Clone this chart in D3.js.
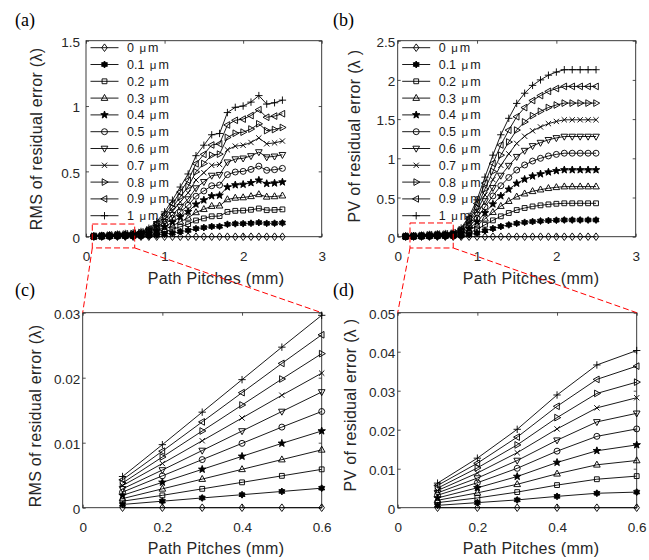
<!DOCTYPE html>
<html lang="en">
<head>
<meta charset="UTF-8">
<title>Residual error vs path pitch</title>
<script src="https://d3js.org/d3.v7.min.js"></script>
<style>
  body { margin: 0; background: #fff; }
  svg { display: block; }
</style>
</head>
<body>
<svg id="chart" width="649" height="560"></svg>
<script>
// path pitch (mm), shared by all panels; (c) and (d) show the first six points
const pitches = [0.1, 0.2, 0.3, 0.4, 0.5, 0.6, 0.7, 0.8, 0.9, 1.0, 1.1, 1.2, 1.3,
                 1.4, 1.5, 1.6, 1.7, 1.8, 1.9, 2.0, 2.1, 2.2, 2.3, 2.4, 2.5];

const heightLabels = ["0", "0.1", "0.2", "0.3", "0.4", "0.5", "0.6", "0.7", "0.8", "0.9", "1"];

// RMS of residual error (lambda), one array per error height
const rms00 = [0, 0, 0, 0, 0, 0, 0, 0, 0, 0, 0, 0, 0, 0, 0, 0, 0, 0, 0, 0, 0, 0, 0, 0, 0];
const rms01 = [0.0005, 0.0010, 0.0015, 0.0020, 0.0025, 0.0030, 0.004, 0.007, 0.012, 0.019, 0.028, 0.038, 0.048, 0.062, 0.070, 0.078, 0.079, 0.095, 0.099, 0.100, 0.103, 0.108, 0.102, 0.103, 0.105];
const rms02 = [0.0010, 0.0019, 0.0029, 0.0039, 0.0049, 0.0059, 0.008, 0.013, 0.023, 0.038, 0.056, 0.076, 0.096, 0.124, 0.140, 0.156, 0.158, 0.190, 0.198, 0.200, 0.206, 0.216, 0.203, 0.205, 0.209];
const rms03 = [0.0014, 0.0029, 0.0044, 0.0059, 0.0074, 0.0089, 0.012, 0.020, 0.035, 0.057, 0.084, 0.114, 0.144, 0.186, 0.210, 0.234, 0.237, 0.285, 0.297, 0.300, 0.309, 0.324, 0.305, 0.308, 0.314];
const rms04 = [0.0019, 0.0039, 0.0059, 0.0079, 0.0099, 0.0118, 0.016, 0.026, 0.046, 0.076, 0.112, 0.152, 0.192, 0.248, 0.280, 0.312, 0.316, 0.380, 0.396, 0.400, 0.412, 0.432, 0.406, 0.410, 0.418];
const rms05 = [0.0024, 0.0049, 0.0074, 0.0099, 0.0124, 0.0148, 0.020, 0.033, 0.058, 0.095, 0.140, 0.190, 0.240, 0.310, 0.350, 0.390, 0.395, 0.475, 0.495, 0.500, 0.515, 0.540, 0.508, 0.513, 0.523];
const rms06 = [0.0029, 0.0058, 0.0088, 0.0118, 0.0148, 0.0178, 0.024, 0.039, 0.069, 0.114, 0.168, 0.228, 0.288, 0.372, 0.420, 0.468, 0.474, 0.570, 0.594, 0.600, 0.618, 0.648, 0.609, 0.615, 0.627];
const rms07 = [0.0034, 0.0068, 0.0103, 0.0138, 0.0173, 0.0207, 0.028, 0.046, 0.081, 0.133, 0.196, 0.266, 0.336, 0.434, 0.490, 0.546, 0.553, 0.665, 0.693, 0.700, 0.721, 0.756, 0.711, 0.718, 0.732];
const rms08 = [0.0038, 0.0078, 0.0118, 0.0158, 0.0198, 0.0237, 0.032, 0.052, 0.092, 0.152, 0.224, 0.304, 0.384, 0.496, 0.560, 0.624, 0.632, 0.760, 0.792, 0.800, 0.824, 0.864, 0.812, 0.820, 0.836];
const rms09 = [0.0043, 0.0087, 0.0132, 0.0177, 0.0222, 0.0266, 0.036, 0.059, 0.104, 0.171, 0.252, 0.342, 0.432, 0.558, 0.630, 0.702, 0.711, 0.855, 0.891, 0.900, 0.927, 0.972, 0.914, 0.923, 0.941];
const rms10 = [0.0048, 0.0097, 0.0147, 0.0197, 0.0247, 0.0296, 0.040, 0.065, 0.115, 0.190, 0.280, 0.380, 0.480, 0.620, 0.700, 0.780, 0.790, 0.950, 0.990, 1.000, 1.030, 1.080, 1.015, 1.025, 1.045];

// PV of residual error (lambda)
const pv00 = [0, 0, 0, 0, 0, 0, 0, 0, 0, 0, 0, 0, 0, 0, 0, 0, 0, 0, 0, 0, 0, 0, 0, 0, 0];
const pv01 = [0.0006, 0.0013, 0.0020, 0.0029, 0.0037, 0.0040, 0.006, 0.011, 0.026, 0.047, 0.076, 0.104, 0.130, 0.151, 0.170, 0.183, 0.193, 0.200, 0.206, 0.210, 0.213, 0.213, 0.213, 0.213, 0.213];
const pv02 = [0.0013, 0.0025, 0.0040, 0.0058, 0.0073, 0.0081, 0.011, 0.022, 0.052, 0.094, 0.152, 0.208, 0.260, 0.302, 0.340, 0.366, 0.386, 0.400, 0.412, 0.420, 0.426, 0.426, 0.426, 0.426, 0.426];
const pv03 = [0.0019, 0.0038, 0.0060, 0.0087, 0.0110, 0.0121, 0.017, 0.033, 0.078, 0.141, 0.228, 0.312, 0.390, 0.453, 0.510, 0.549, 0.579, 0.600, 0.618, 0.630, 0.639, 0.639, 0.639, 0.639, 0.639];
const pv04 = [0.0025, 0.0051, 0.0080, 0.0116, 0.0146, 0.0161, 0.022, 0.044, 0.104, 0.188, 0.304, 0.416, 0.520, 0.604, 0.680, 0.732, 0.772, 0.800, 0.824, 0.840, 0.852, 0.852, 0.852, 0.852, 0.852];
const pv05 = [0.0032, 0.0064, 0.0101, 0.0145, 0.0183, 0.0202, 0.028, 0.055, 0.130, 0.235, 0.380, 0.520, 0.650, 0.755, 0.850, 0.915, 0.965, 1.000, 1.030, 1.050, 1.065, 1.065, 1.065, 1.065, 1.065];
const pv06 = [0.0038, 0.0076, 0.0121, 0.0173, 0.0220, 0.0242, 0.033, 0.066, 0.156, 0.282, 0.456, 0.624, 0.780, 0.906, 1.020, 1.098, 1.158, 1.200, 1.236, 1.260, 1.278, 1.278, 1.278, 1.278, 1.278];
const pv07 = [0.0044, 0.0089, 0.0141, 0.0202, 0.0256, 0.0282, 0.039, 0.077, 0.182, 0.329, 0.532, 0.728, 0.910, 1.057, 1.190, 1.281, 1.351, 1.400, 1.442, 1.470, 1.491, 1.491, 1.491, 1.491, 1.491];
const pv08 = [0.0050, 0.0102, 0.0161, 0.0231, 0.0293, 0.0322, 0.044, 0.088, 0.208, 0.376, 0.608, 0.832, 1.040, 1.208, 1.360, 1.464, 1.544, 1.600, 1.648, 1.680, 1.704, 1.704, 1.704, 1.704, 1.704];
const pv09 = [0.0057, 0.0114, 0.0181, 0.0260, 0.0329, 0.0363, 0.050, 0.099, 0.234, 0.423, 0.684, 0.936, 1.170, 1.359, 1.530, 1.647, 1.737, 1.800, 1.854, 1.890, 1.917, 1.917, 1.917, 1.917, 1.917];
const pv10 = [0.0063, 0.0127, 0.0201, 0.0289, 0.0366, 0.0403, 0.055, 0.110, 0.260, 0.470, 0.760, 1.040, 1.300, 1.510, 1.700, 1.830, 1.930, 2.000, 2.060, 2.100, 2.130, 2.130, 2.130, 2.130, 2.130];

// tick labels
const xTicksFull = [0, 1, 2, 3];
const xTicksZoom = [0, 0.2, 0.4, 0.6];
const yTicksRms = [0, 0.5, 1, 1.5];
const yTicksPv = [0, 0.5, 1, 1.5, 2, 2.5];
const yTicksRmsZoom = [0, 0.01, 0.02, 0.03];
const yTicksPvZoom = [0, 0.01, 0.02, 0.03, 0.04, 0.05];

const rmsSeries = [rms00, rms01, rms02, rms03, rms04, rms05, rms06, rms07, rms08, rms09, rms10];
const pvSeries = [pv00, pv01, pv02, pv03, pv04, pv05, pv06, pv07, pv08, pv09, pv10];
const markers = ["diamond", "hexagram", "square", "triUp", "pentagram", "circle",
                 "triDown", "cross", "triRight", "triLeft", "plus"];

const axisColor = "#262626";
const sans = "'Liberation Sans', Arial, sans-serif";
const svg = d3.select("#chart");
const ms = 1.15; // marker scale

function starPath(p, n, ro, ri) {
  for (let i = 0; i < 2 * n; i++) {
    const a = -Math.PI / 2 + i * Math.PI / n;
    const r = i % 2 ? ri : ro;
    if (i === 0) p.moveTo(r * Math.cos(a), r * Math.sin(a));
    else p.lineTo(r * Math.cos(a), r * Math.sin(a));
  }
  p.closePath();
}

function markerPath(type) {
  const p = d3.path();
  switch (type) {
    case "diamond":
      p.moveTo(0, -3.3); p.lineTo(2.4, 0); p.lineTo(0, 3.3); p.lineTo(-2.4, 0); p.closePath(); break;
    case "hexagram": starPath(p, 6, 3.0, 1.9); break;
    case "square": p.rect(-2.1, -2.1, 4.2, 4.2); break;
    case "triUp": p.moveTo(0, -3.2); p.lineTo(2.9, 2); p.lineTo(-2.9, 2); p.closePath(); break;
    case "triDown": p.moveTo(0, 3.2); p.lineTo(2.9, -2); p.lineTo(-2.9, -2); p.closePath(); break;
    case "triRight": p.moveTo(3.2, 0); p.lineTo(-2, 2.9); p.lineTo(-2, -2.9); p.closePath(); break;
    case "triLeft": p.moveTo(-3.2, 0); p.lineTo(2, 2.9); p.lineTo(2, -2.9); p.closePath(); break;
    case "pentagram": starPath(p, 5, 3.4, 1.4); break;
    case "circle": p.arc(0, 0, 2.6, 0, 2 * Math.PI); p.closePath(); break;
    case "cross": p.moveTo(-2.3, -2.3); p.lineTo(2.3, 2.3); p.moveTo(2.3, -2.3); p.lineTo(-2.3, 2.3); break;
    case "plus": p.moveTo(-3.2, 0); p.lineTo(3.2, 0); p.moveTo(0, -3.2); p.lineTo(0, 3.2); break;
  }
  return p.toString();
}
const filled = t => t === "hexagram" || t === "pentagram";

function drawMarker(g, type, px, py) {
  g.append("path")
    .attr("d", markerPath(type))
    .attr("transform", `translate(${px},${py}) scale(${ms})`)
    .attr("fill", filled(type) ? "#000" : "none")
    .attr("stroke", "#000")
    .attr("stroke-width", 0.8);
}

function drawPanel(cfg) {
  const x = d3.scaleLinear().domain(cfg.xDomain).range([cfg.left, cfg.right]);
  const y = d3.scaleLinear().domain(cfg.yDomain).range([cfg.bottom, cfg.top]);
  const g = svg.append("g");

  const styleAxis = sel => {
    sel.select(".domain").remove();
    sel.selectAll(".tick line").attr("stroke", axisColor).attr("stroke-width", 0.8);
    sel.selectAll("text").attr("fill", axisColor).attr("font-family", sans).attr("font-size", 13.5);
  };
  g.append("g").attr("transform", `translate(0,${cfg.bottom})`)
    .call(d3.axisBottom(x).tickValues(cfg.xTicks).tickSize(-3).tickPadding(15).tickFormat(d => d))
    .call(styleAxis);
  g.append("g").attr("transform", `translate(0,${cfg.top})`)
    .call(d3.axisTop(x).tickValues(cfg.xTicks).tickSize(-3).tickFormat(""))
    .call(styleAxis);
  g.append("g").attr("transform", `translate(${cfg.left},0)`)
    .call(d3.axisLeft(y).tickValues(cfg.yTicks).tickSize(-3).tickPadding(cfg.tickGap).tickFormat(d => d))
    .call(styleAxis)
    .selectAll("text").attr("dy", "0.42em");
  g.append("g").attr("transform", `translate(${cfg.right},0)`)
    .call(d3.axisRight(y).tickValues(cfg.yTicks).tickSize(-3).tickFormat(""))
    .call(styleAxis);

  g.append("rect")
    .attr("x", cfg.left).attr("y", cfg.top)
    .attr("width", cfg.right - cfg.left).attr("height", cfg.bottom - cfg.top)
    .attr("fill", "none").attr("stroke", axisColor).attr("stroke-width", 0.9);

  const line = d3.line().x(d => x(d[0])).y(d => y(d[1]));
  cfg.series.forEach((vals, k) => {
    const pts = pitches.map((p, i) => [p, vals[i]]).filter(d => d[0] <= cfg.xMax + 1e-9);
    g.append("path").attr("d", line(pts))
      .attr("fill", "none").attr("stroke", "#000").attr("stroke-width", 0.9);
    pts.forEach(d => drawMarker(g, markers[k], x(d[0]), y(d[1])));
  });

  if (cfg.legend) {
    const lg = g.append("g");
    heightLabels.forEach((lab, k) => {
      const ry = cfg.top + 7 + 16.8 * k;
      lg.append("line")
        .attr("x1", cfg.left + 4.5).attr("x2", cfg.left + 32.5)
        .attr("y1", ry).attr("y2", ry)
        .attr("stroke", "#000").attr("stroke-width", 0.9);
      drawMarker(lg, markers[k], cfg.left + 18.5, ry);
      const t = lg.append("text")
        .attr("x", cfg.left + 41).attr("y", ry).attr("dy", "0.36em")
        .attr("font-family", sans).attr("font-size", 12.5).attr("fill", "#1a1a1a");
      t.append("tspan").text(lab + " ");
      t.append("tspan").attr("dx", 2).attr("font-size", 11.5).text("μ");
      t.append("tspan").attr("dx", 2).text("m");
    });
  }

  // axis titles and panel letter
  g.append("text")
    .attr("x", cfg.xLabelX).attr("y", cfg.xLabelY)
    .attr("text-anchor", "middle")
    .attr("font-family", sans).attr("font-size", 16).attr("letter-spacing", 0.3)
    .attr("fill", axisColor)
    .text("Path Pitches (mm)");
  g.append("text")
    .attr("transform", `translate(${cfg.yLabelX},${cfg.yLabelY}) rotate(-90)`)
    .attr("text-anchor", "middle")
    .attr("font-family", sans).attr("font-size", 16).attr("letter-spacing", 0.3)
    .attr("fill", axisColor)
    .text(cfg.yLabel);
  g.append("text")
    .attr("x", cfg.letterX).attr("y", cfg.letterY)
    .attr("font-family", "'Liberation Serif', 'Times New Roman', serif")
    .attr("font-size", 18).attr("fill", "#000")
    .text(cfg.letter);

  return { x, y, cfg };
}

const panelA = drawPanel({
  letter: "(a)", letterX: 15, letterY: 26,
  left: 86, right: 321.7, top: 40.7, bottom: 236.7,
  xDomain: [0, 3], yDomain: [0, 1.5], xTicks: xTicksFull, yTicks: yTicksRms,
  series: rmsSeries, xMax: 2.5, legend: true, tickGap: 6,
  yLabel: "RMS of residual error (λ)", yLabelX: 42, yLabelY: 139,
  xLabelX: 216, xLabelY: 284
});
const panelB = drawPanel({
  letter: "(b)", letterX: 333, letterY: 26,
  left: 397.7, right: 635.7, top: 40.7, bottom: 236.7,
  xDomain: [0, 3], yDomain: [0, 2.5], xTicks: xTicksFull, yTicks: yTicksPv,
  series: pvSeries, xMax: 2.5, legend: true, tickGap: 2.5,
  yLabel: "PV of residual error (λ )", yLabelX: 360, yLabelY: 136,
  xLabelX: 531, xLabelY: 284
});
const panelC = drawPanel({
  letter: "(c)", letterX: 15, letterY: 296,
  left: 82.7, right: 321.7, top: 312.7, bottom: 507.7,
  xDomain: [0, 0.6], yDomain: [0, 0.03], xTicks: xTicksZoom, yTicks: yTicksRmsZoom,
  series: rmsSeries, xMax: 0.6, legend: false, tickGap: 2.5,
  yLabel: "RMS of residual error (λ)", yLabelX: 41, yLabelY: 416,
  xLabelX: 216, xLabelY: 554
});
const panelD = drawPanel({
  letter: "(d)", letterX: 333, letterY: 296,
  left: 397.7, right: 636.7, top: 312.7, bottom: 507.7,
  xDomain: [0, 0.6], yDomain: [0, 0.05], xTicks: xTicksZoom, yTicks: yTicksPvZoom,
  series: pvSeries, xMax: 0.6, legend: false, tickGap: 2.5,
  yLabel: "PV of residual error (λ )", yLabelX: 356, yLabelY: 405,
  xLabelX: 531, xLabelY: 554
});

// red dashed zoom boxes linking the full plots to the zoomed ones
function zoomLink(src, dst, box) {
  const x0 = src.x(box.x0), x1 = src.x(box.x1);
  const yTop = src.y(box.y1), yBot = src.y(box.y0);
  const red = svg.append("g")
    .attr("fill", "none").attr("stroke", "#ff0000")
    .attr("stroke-width", 1).attr("stroke-dasharray", "6,3");
  red.append("rect").attr("x", x0).attr("y", yTop).attr("width", x1 - x0).attr("height", yBot - yTop);
  red.append("line").attr("x1", x0).attr("y1", yBot)
    .attr("x2", dst.cfg.left).attr("y2", dst.cfg.top);
  red.append("line").attr("x1", x1).attr("y1", yBot)
    .attr("x2", dst.cfg.right).attr("y2", dst.cfg.top);
}
zoomLink(panelA, panelC, { x0: 0.08, x1: 0.62, y0: -0.086, y1: 0.097 });
zoomLink(panelB, panelD, { x0: 0.155, x1: 0.70, y0: -0.144, y1: 0.175 });
</script>
</body>
</html>
